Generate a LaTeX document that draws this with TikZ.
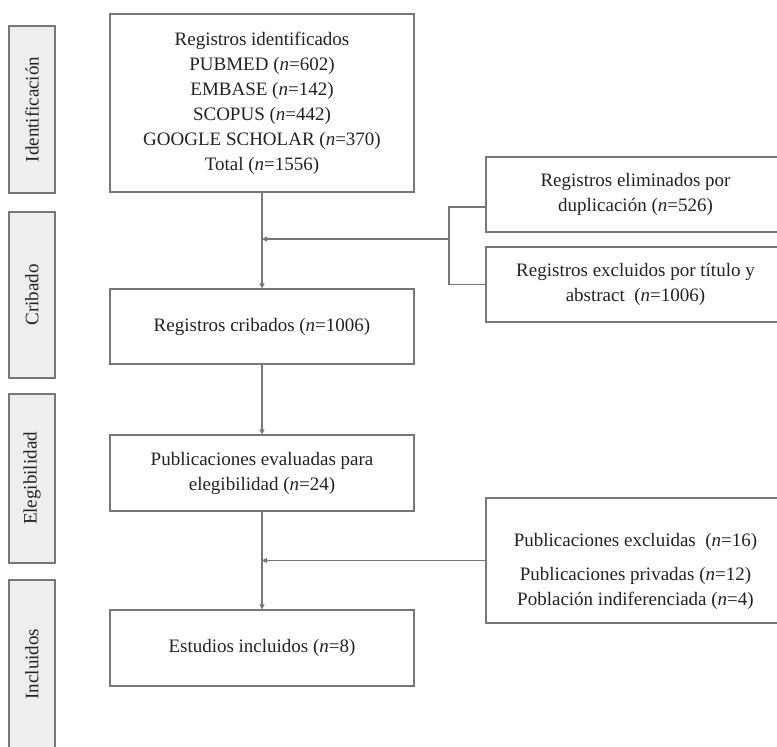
\documentclass[tikz,border=0pt]{standalone}
\usepackage{fontspec}
\setmainfont{Liberation Serif}
\usetikzlibrary{arrows.meta}
\definecolor{linegray}{HTML}{777777}
\definecolor{stagefill}{HTML}{EEEEEE}
\definecolor{textgray}{HTML}{222222}
\newcommand{\nn}{\textit{n}}
\tikzset{
	box/.style={draw=linegray, line width=1.1pt, text=textgray, align=center, inner sep=0pt,
			font=\fontsize{19}{25}\selectfont},
	flowbox/.style={box, minimum width=304pt},
	sidebox/.style={box, minimum width=299pt},
	stage/.style={box, fill=stagefill, rotate=90, minimum height=46pt},
	flow/.style={draw=linegray, line width=1.1pt},
	flowarrow/.style={flow, -{Triangle[length=5pt,width=5pt]}}
}

\begin{document}
\begin{tikzpicture}[x=1pt, y=-1pt]
	\useasboundingbox (0,0) rectangle (777,747);
	\clip (0,0) rectangle (777,747);
	\node[stage, minimum width=167pt] (ident) at (32,109.5) {Identificación};
	\node[stage, minimum width=166pt] (crib) at (32,295) {Cribado};
	\node[stage, minimum width=169pt] (eleg) at (32,478.5) {Elegibilidad};
	\node[stage, minimum width=168pt] (incl) at (32,664) {Incluidos};
	\node[flowbox, minimum height=178pt] (reg) at (262,103) {Registros identificados\\PUBMED (\nn=602)\\EMBASE (\nn=142)\\SCOPUS (\nn=442)\\GOOGLE SCHOLAR (\nn=370)\\Total (\nn=1556)};
	\node[flowbox, minimum height=75pt] (cribados) at (262,326.5) {Registros cribados (\nn=1006)};
	\node[flowbox, minimum height=76pt] (evaluadas) at (262,473) {Publicaciones evaluadas para\\elegibilidad (\nn=24)};
	\node[flowbox, minimum height=76pt] (estudios) at (262,648) {Estudios incluidos (\nn=8)};
	\node[sidebox, minimum height=75pt] (dup) at (635.5,194.5) {Registros eliminados por\\duplicación (\nn=526)};
	\node[sidebox, minimum height=75pt] (tit) at (635.5,284.5) {Registros excluidos por título y\\abstract~~(\nn=1006)};
	\node[sidebox, minimum height=125pt] (excl) at (635.5,560.5) {\rule{0pt}{36pt}Publicaciones excluidas~~(\nn=16)\\[9pt]Publicaciones privadas (\nn=12)\\Población indiferenciada (\nn=4)};
	\coordinate (join) at (449,239);
	\draw[flow] ([yshift=-12.5pt]dup.west) -| (join) |- (tit.west);
	\draw[flowarrow] (join) -- (join -| reg.south);
	\draw[flowarrow] (reg) -- (cribados);
	\draw[flowarrow] (cribados) -- (evaluadas);
	\draw[flowarrow] (evaluadas) -- (estudios);
	\draw[flowarrow] (excl.west) -- (excl.west -| evaluadas.south);
\end{tikzpicture}
\end{document}
